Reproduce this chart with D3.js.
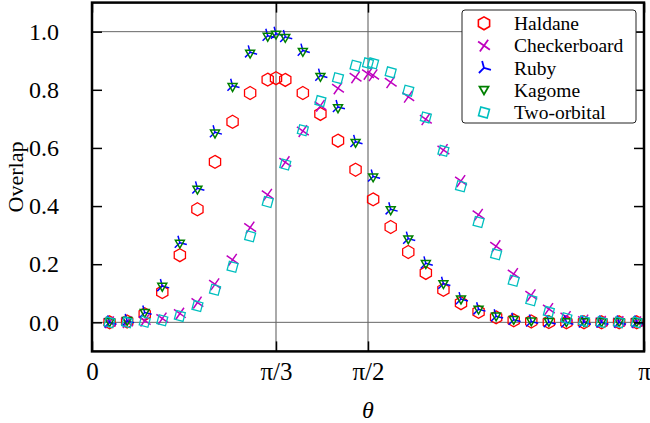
<!DOCTYPE html>
<html>
<head>
<meta charset="utf-8">
<script src="https://cdn.jsdelivr.net/npm/d3@7"></script>
<style>
  body { margin: 0; background: #fff; }
  svg { display: block; }
  text { font-family: "Liberation Serif", "Times New Roman", serif; fill: #000; }
</style>
</head>
<body>
<svg id="chart" width="650" height="423"></svg>
<script>
const PI = Math.PI;

// theta grids: regular 0.1 steps plus one extra sample at pi/3 or pi/2
const thetaA = [0.1,0.2,0.3,0.4,0.5,0.6,0.7,0.8,0.9,1.0,PI/3,1.1,1.2,1.3,1.4,1.5,1.6,1.7,1.8,1.9,2.0,2.1,2.2,2.3,2.4,2.5,2.6,2.7,2.8,2.9,3.0,3.1];
const thetaB = [0.1,0.2,0.3,0.4,0.5,0.6,0.7,0.8,0.9,1.0,1.1,1.2,1.3,1.4,1.5,PI/2,1.6,1.7,1.8,1.9,2.0,2.1,2.2,2.3,2.4,2.5,2.6,2.7,2.8,2.9,3.0,3.1];

const haldane = [0.000,0.003,0.028,0.104,0.231,0.389,0.552,0.690,0.789,0.835,0.840,0.834,0.789,0.717,0.625,0.525,0.423,0.328,0.242,0.170,0.112,0.066,0.036,0.017,0.007,0.003,0.001,0.000,0.000,0.000,0.000,0.000];
const ruby    = [0.000,0.005,0.034,0.125,0.274,0.461,0.654,0.814,0.929,0.986,0.993,0.982,0.935,0.849,0.741,0.621,0.502,0.389,0.288,0.203,0.133,0.080,0.045,0.021,0.009,0.003,0.001,0.000,0.000,0.000,0.000,0.000];
const kagome  = [0.000,0.004,0.032,0.122,0.270,0.456,0.649,0.809,0.924,0.982,0.989,0.978,0.930,0.844,0.736,0.617,0.498,0.385,0.285,0.200,0.131,0.078,0.043,0.020,0.008,0.003,0.001,0.000,0.000,0.000,0.000,0.000];
const checkerboard = [0.000,0.001,0.006,0.013,0.030,0.068,0.131,0.215,0.326,0.439,0.551,0.658,0.745,0.805,0.843,0.855,0.850,0.826,0.776,0.699,0.593,0.486,0.370,0.262,0.166,0.093,0.046,0.018,0.006,0.002,0.001,0.000];
const twoOrbital   = [0.000,0.000,0.002,0.007,0.022,0.056,0.112,0.191,0.296,0.414,0.543,0.661,0.761,0.840,0.883,0.891,0.891,0.860,0.797,0.705,0.590,0.468,0.345,0.234,0.143,0.076,0.036,0.014,0.004,0.001,0.000,0.000];

const seriesNames = ["Haldane", "Checkerboard", "Ruby", "Kagome", "Two-orbital"];
const xTickValues = [0, PI/3, PI/2, PI];
const xTickLabels = ["0", "π/3", "π/2", "π"];
const yTickValues = [0, 0.2, 0.4, 0.6, 0.8, 1.0];
const xGuides = [PI/3, PI/2];
const yGuides = [0, 1.0];

// marker shapes (size = radius squared)
const hexagon = { draw(ctx, size) {
  const r = Math.sqrt(size);
  for (let i = 0; i < 6; i++) {
    const a = -PI/2 + i * PI/3;
    i ? ctx.lineTo(r*Math.cos(a), r*Math.sin(a)) : ctx.moveTo(r*Math.cos(a), r*Math.sin(a));
  }
  ctx.closePath();
}};
const cross = { draw(ctx, size) {
  const r = Math.sqrt(size);
  ctx.moveTo(-r, 0); ctx.lineTo(r, 0);
  ctx.moveTo(0, -r); ctx.lineTo(0, r);
}};
const tri = { draw(ctx, size) {
  const r = Math.sqrt(size);
  [-90, 30, 150].forEach(d => { const a = d*PI/180; ctx.moveTo(0,0); ctx.lineTo(r*Math.cos(a), r*Math.sin(a)); });
}};
const triDown = { draw(ctx, size) {
  const r = Math.sqrt(size);
  ctx.moveTo(-r, -r*0.8); ctx.lineTo(r, -r*0.8); ctx.lineTo(0, r*0.95); ctx.closePath();
}};
const square = { draw(ctx, size) {
  const r = Math.sqrt(size);
  ctx.rect(-r, -r, 2*r, 2*r);
}};

const series = [
  { name: seriesNames[0], theta: thetaA, values: haldane,      color: "#ff0000", type: hexagon, size: 42, rot: 0,   sw: 1.3 },
  { name: seriesNames[1], theta: thetaB, values: checkerboard, color: "#bf00bf", type: cross,   size: 52, rot: 35,  sw: 1.5 },
  { name: seriesNames[2], theta: thetaA, values: ruby,         color: "#0000ff", type: tri,     size: 52, rot: -15, sw: 1.5 },
  { name: seriesNames[3], theta: thetaA, values: kagome,       color: "#008000", type: triDown, size: 20, rot: 0,   sw: 1.5 },
  { name: seriesNames[4], theta: thetaB, values: twoOrbital,   color: "#00bfbf", type: square,  size: 20, rot: 15,  sw: 1.3 }
];

const X0 = 92, X1 = 644, Y0 = 2.6, Y1 = 351.4;
const x = d3.scaleLinear().domain([0, PI]).range([X0, X1]);
const y = d3.scaleLinear().domain([-0.1, 1.1]).range([Y1, Y0]);

const svg = d3.select("#chart");

// guide lines
svg.append("g").selectAll("line").data(xGuides).join("line")
  .attr("x1", d => x(d)).attr("x2", d => x(d)).attr("y1", Y0).attr("y2", Y1)
  .attr("stroke", "#aaaaaa").attr("stroke-width", 2);
svg.append("g").selectAll("line").data(yGuides).join("line")
  .attr("x1", X0).attr("x2", X1).attr("y1", d => y(d)).attr("y2", d => y(d))
  .attr("stroke", "#666666").attr("stroke-width", 1);

// markers
const plot = svg.append("g");
series.forEach(s => {
  const sym = d3.symbol().type(s.type).size(s.size);
  plot.append("g").selectAll("path")
    .data(s.values.map((v, i) => [s.theta[i], v]))
    .join("path")
    .attr("d", sym)
    .attr("transform", d => `translate(${x(d[0])},${y(d[1])}) rotate(${s.rot})`)
    .attr("fill", "none").attr("stroke", s.color).attr("stroke-width", s.sw);
});

// axes with inward ticks
const styleAxis = size => g => {
  g.select(".domain").remove();
  g.selectAll(".tick line").attr("stroke", "#000").attr("stroke-width", 1.5);
  g.selectAll(".tick text").style("font-size", size).attr("fill", "#000");
};
svg.append("g").attr("transform", `translate(${X0},0)`)
  .call(d3.axisLeft(y).tickValues(yTickValues).tickSize(-10).tickPadding(33).tickFormat(d3.format(".1f")))
  .call(styleAxis("24px"));
svg.append("g").attr("transform", `translate(${X1},0)`)
  .call(d3.axisRight(y).tickValues(yTickValues).tickSize(-10).tickFormat(""))
  .call(styleAxis("24px"));
svg.append("g").attr("transform", `translate(0,${Y1})`)
  .call(d3.axisBottom(x).tickValues(xTickValues).tickSize(-10).tickPadding(11)
    .tickFormat((d, i) => xTickLabels[i]))
  .call(styleAxis("25px"));
svg.append("g").attr("transform", `translate(0,${Y0})`)
  .call(d3.axisTop(x).tickValues(xTickValues).tickSize(-10).tickFormat(""))
  .call(styleAxis("24px"));

// frame
svg.append("rect").attr("x", X0).attr("y", Y0).attr("width", X1 - X0).attr("height", Y1 - Y0)
  .attr("fill", "none").attr("stroke", "#000").attr("stroke-width", 2.5);

// axis titles
svg.append("text").attr("transform", "translate(23,177) rotate(-90)")
  .attr("text-anchor", "middle").style("font-size", "22px").text("Overlap");
svg.append("text").attr("x", x(PI/2)).attr("y", 418)
  .attr("text-anchor", "middle").style("font-size", "24px").style("font-style", "italic").text("θ");

// legend
const lg = svg.append("g");
lg.append("rect").attr("x", 462).attr("y", 10).attr("width", 174).attr("height", 113).attr("rx", 3)
  .attr("fill", "#fff").attr("stroke", "#222").attr("stroke-width", 1);
series.forEach((s, i) => {
  const cy = 23.3 + i * 22.3;
  lg.append("path").attr("d", d3.symbol().type(s.type).size(s.size)())
    .attr("transform", `translate(484,${cy}) rotate(${s.rot})`)
    .attr("fill", "none").attr("stroke", s.color).attr("stroke-width", s.sw + 0.3);
  lg.append("text").attr("x", 514).attr("y", cy).attr("dy", "0.35em")
    .style("font-size", "19.5px").attr("fill", "#222").text(s.name);
});
</script>
</body>
</html>
